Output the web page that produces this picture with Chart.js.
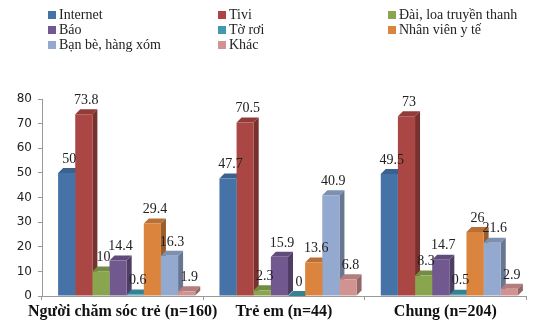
<!DOCTYPE html>
<html>
<head>
<meta charset="utf-8">
<script src="https://cdn.jsdelivr.net/npm/chart.js@4.4.1/dist/chart.umd.min.js"></script>
<style>
  body { margin: 0; background: #fff; }
  #wrap { position: relative; width: 536px; height: 326px; }
  #legend { position: absolute; left: 0; top: 0; width: 536px; height: 60px;
            font-family: "Liberation Serif", serif; font-size: 14px; color: #222; }
  .item { position: absolute; white-space: nowrap; line-height: 15px; }
  .item span { display: inline-block; width: 8px; height: 8px; margin-right: 3px; vertical-align: 0px; }
</style>
</head>
<body>
<div id="wrap">
  <canvas id="myChart" width="536" height="326"></canvas>
  <div id="legend"></div>
</div>
<script>
const categories = ["Người chăm sóc trẻ (n=160)", "Trẻ em (n=44)", "Chung (n=204)"];
const seriesNames = ["Internet", "Tivi", "Đài, loa truyền thanh", "Báo", "Tờ rơi",
  "Nhân viên y tế", "Bạn bè, hàng xóm", "Khác"];
const colors = ["#4572A7", "#AA4643", "#89A54E", "#71588F", "#4198AF", "#DB843D", "#93A9CF", "#D19392"];
const internet = [50, 47.7, 49.5];
const tivi = [73.8, 70.5, 73];
const dai = [10, 2.3, 8.3];
const bao = [14.4, 15.9, 14.7];
const toRoi = [0.6, 0, 0.5];
const nhanVien = [29.4, 13.6, 26];
const banBe = [16.3, 40.9, 21.6];
const khac = [1.9, 6.8, 2.9];
const seriesValues = [internet, tivi, dai, bao, toRoi, nhanVien, banBe, khac];
const yTicks = [0, 10, 20, 30, 40, 50, 60, 70, 80];

// legend: 3 columns, filled row by row
const legendCols = [48, 218, 388];
const legend = document.getElementById("legend");
seriesNames.forEach((name, i) => {
  const div = document.createElement("div");
  div.className = "item";
  div.style.left = legendCols[i % 3] + "px";
  div.style.top = (7 + Math.floor(i / 3) * 15) + "px";
  div.innerHTML = '<span style="background:' + colors[i] + '"></span>' + name;
  legend.appendChild(div);
});

function shade(hex, f) {
  const n = parseInt(hex.slice(1), 16);
  const r = Math.round(((n >> 16) & 255) * f);
  const g = Math.round(((n >> 8) & 255) * f);
  const b = Math.round((n & 255) * f);
  return "rgb(" + Math.min(r, 255) + "," + Math.min(g, 255) + "," + Math.min(b, 255) + ")";
}

const depth = 5;
const groupShift = 4; // excel's 3d groups sit a bit right of the category centre

const ctx = document.getElementById("myChart").getContext("2d");
const myChart = new Chart(ctx, {
  type: "bar",
  data: {
    labels: categories,
    datasets: seriesNames.map((name, i) => ({
      label: name,
      data: seriesValues[i],
      backgroundColor: colors[i],
      borderWidth: 0,
      categoryPercentage: 0.85,
      barPercentage: 1,
    })),
  },
  options: {
    responsive: false,
    animation: false,
    layout: { padding: { top: 99, right: 10, left: 0, bottom: 0 } },
    plugins: { legend: { display: false }, tooltip: { enabled: false } },
    scales: {
      x: {
        grid: { display: true, drawOnChartArea: false, offset: true, tickLength: 4, color: "#999" },
        border: { color: "#999" },
        ticks: { color: "#111", font: { family: "Liberation Serif", size: 16, weight: "bold" },
                 padding: 2, maxRotation: 0, autoSkip: false },
        afterFit: (s) => { s.height = 30; },
      },
      y: {
        min: 0,
        max: 80,
        afterBuildTicks: (s) => { s.ticks = yTicks.map((v) => ({ value: v })); },
        grid: { display: true, drawOnChartArea: false, tickLength: 4, color: "#999" },
        border: { color: "#999" },
        ticks: { color: "#222", font: { family: "DejaVu Sans", size: 12 }, padding: 6 },
        afterFit: (s) => { s.width = 42; },
      },
    },
  },
  plugins: [
    {
      // depth faces drawn under the flat fronts
      beforeDatasetsDraw: function (chart) {
        const c = chart.ctx;
        c.save();
        c.translate(groupShift, 0);
        chart.data.datasets.forEach((dataset, i) => {
          chart.getDatasetMeta(i).data.forEach((el) => {
            const l = el.x - el.width / 2, r = el.x + el.width / 2;
            const top = el.y, base = el.base;
            c.fillStyle = shade(colors[i], 0.7);
            c.beginPath();
            c.moveTo(r, top); c.lineTo(r + depth, top - depth);
            c.lineTo(r + depth, base - depth); c.lineTo(r, base);
            c.closePath(); c.fill();
            c.fillStyle = shade(colors[i], 0.85);
            c.beginPath();
            c.moveTo(l, top); c.lineTo(l + depth, top - depth);
            c.lineTo(r + depth, top - depth); c.lineTo(r, top);
            c.closePath(); c.fill();
          });
        });
        // translation kept for the fronts, undone after labels
      },
      afterDatasetsDraw: function (chart) {
        const c = chart.ctx;
        c.font = "14px 'Liberation Serif'";
        c.fillStyle = "#222";
        c.textAlign = "center";
        c.textBaseline = "bottom";
        chart.data.datasets.forEach((dataset, i) => {
          chart.getDatasetMeta(i).data.forEach((el, j) => {
            c.fillText(String(dataset.data[j]), el.x + depth / 2, el.y - depth - 2);
          });
        });
        c.restore();
      },
    },
  ],
});
</script>
</body>
</html>
